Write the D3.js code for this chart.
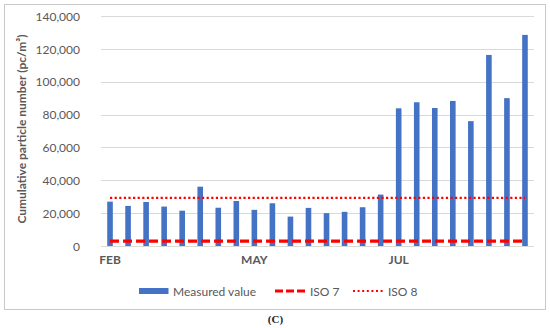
<!DOCTYPE html>
<html>
<head>
<meta charset="utf-8">
<script src="https://cdn.jsdelivr.net/npm/d3@7"></script>
<style>
  html, body { margin: 0; padding: 0; background: #fff; }
  svg { display: block; }
</style>
</head>
<body>
<svg id="chart" width="550" height="328"></svg>
<script>
// ---- data ----
const categories = d3.range(1, 25).map(i => "S" + i);
const xTickLabels = ["FEB", "", "", "", "", "", "", "", "MAY", "", "", "", "", "", "", "", "JUL", "", "", "", "", "", "", ""];
const measuredValues = [27000, 24400, 26800, 24000, 21500, 36100, 23300, 27400, 22000, 26000, 17900, 23200,
                        20000, 20800, 23600, 31300, 83800, 87500, 84000, 88300, 76000, 116300, 90000, 128500];
const iso7 = 2930;
const iso8 = 29300;
const yTicks = [0, 20000, 40000, 60000, 80000, 100000, 120000, 140000];
const seriesNames = ["Measured value", "ISO 7", "ISO 8"];

// ---- layout ----
const svg = d3.select("#chart");
const font = "Lato, 'Open Sans', sans-serif";
const grey = "#595959";
const blue = "#4472C4";
const red = "#FF0000";

// outer border
svg.append("rect").attr("x", 4.5).attr("y", 4.5).attr("width", 541).attr("height", 305)
  .attr("fill", "#fff").attr("stroke", "#c9c9c9").attr("stroke-width", 1);

const x = d3.scaleBand().domain(categories).range([101, 534]).padding(0);
const y = d3.scaleLinear().domain([0, 140000]).range([246, 16]);

// gridlines
svg.append("g").selectAll("line").data(yTicks).join("line")
  .attr("x1", 101).attr("x2", 534)
  .attr("y1", d => Math.round(y(d)) + 0.5).attr("y2", d => Math.round(y(d)) + 0.5)
  .attr("stroke", "#d9d9d9").attr("stroke-width", 1);

// y axis labels
const yAxis = d3.axisLeft(y).tickValues(yTicks).tickSize(0).tickPadding(0)
  .tickFormat(d3.format(","));
const yg = svg.append("g").attr("transform", "translate(80,0)").call(yAxis);
yg.select(".domain").remove();
yg.selectAll("text").attr("font-family", font).attr("font-size", 12).attr("fill", grey).attr("dy", "0.35em");

// x axis labels
const xAxis = d3.axisBottom(x).tickSize(0).tickPadding(0).tickFormat((d, i) => xTickLabels[i]);
const xg = svg.append("g").attr("transform", "translate(0,255)").call(xAxis);
xg.select(".domain").remove();
xg.selectAll("text").attr("font-family", font).attr("font-size", 12).attr("font-weight", "bold")
  .attr("fill", grey).attr("dy", "0.71em");

// y title
svg.append("text")
  .attr("transform", "translate(26,129) rotate(-90)")
  .attr("text-anchor", "middle")
  .attr("font-family", font).attr("font-size", 12).attr("font-weight", "bold").attr("fill", grey)
  .text("Cumulative particle number (pc/m³)");

// bars
const barW = 5.6;
svg.append("g").selectAll("rect").data(measuredValues).join("rect")
  .attr("x", (d, i) => x(categories[i]) + x.bandwidth() / 2 - barW / 2)
  .attr("width", barW)
  .attr("y", d => y(d))
  .attr("height", d => y(0) - y(d))
  .attr("fill", blue);

// reference lines (from first to last category centre)
const cx = c => x(c) + x.bandwidth() / 2;
const lineGen = d3.line().x(d => cx(d[0])).y(d => y(d[1]));
const first = categories[0], last = categories[categories.length - 1];
svg.append("path").datum([[first, iso7], [last, iso7]]).attr("d", lineGen)
  .attr("stroke", red).attr("stroke-width", 3.2).attr("stroke-dasharray", "9,4").attr("fill", "none");
svg.append("path").datum([[first, iso8], [last, iso8]]).attr("d", lineGen)
  .attr("stroke", red).attr("stroke-width", 2.2).attr("stroke-dasharray", "2.2,2.4").attr("fill", "none");

// legend
const lg = svg.append("g").attr("font-family", font).attr("font-size", 12).attr("fill", grey);
lg.append("rect").attr("x", 139).attr("y", 288).attr("width", 29.5).attr("height", 6).attr("fill", blue);
lg.append("text").attr("x", 173).attr("y", 295.5).text(seriesNames[0]);
lg.append("line").attr("x1", 275).attr("x2", 305).attr("y1", 291).attr("y2", 291)
  .attr("stroke", red).attr("stroke-width", 3.2).attr("stroke-dasharray", "8,3");
lg.append("text").attr("x", 310).attr("y", 295.5).text(seriesNames[1]);
lg.append("line").attr("x1", 353).attr("x2", 384).attr("y1", 291).attr("y2", 291)
  .attr("stroke", red).attr("stroke-width", 2).attr("stroke-dasharray", "2,2.6");
lg.append("text").attr("x", 388).attr("y", 295.5).text(seriesNames[2]);

// caption
svg.append("text").attr("x", 275.5).attr("y", 323).attr("text-anchor", "middle")
  .attr("font-family", "'Liberation Serif', 'Times New Roman', serif").attr("font-size", 11)
  .attr("font-weight", "bold").attr("fill", "#222").text("(C)");
</script>
</body>
</html>
